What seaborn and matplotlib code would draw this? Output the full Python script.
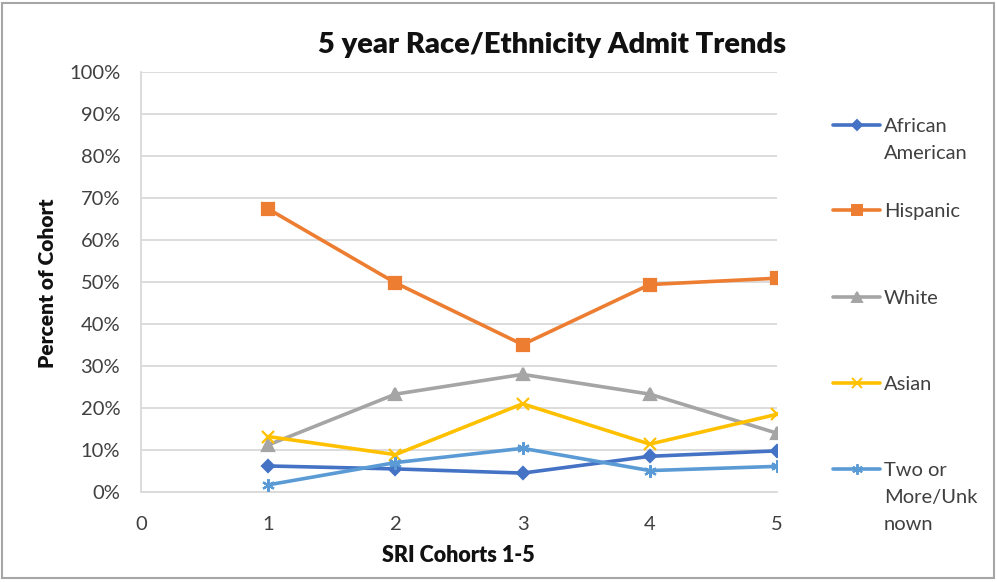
import matplotlib
matplotlib.use("Agg")
import matplotlib.pyplot as plt
import numpy as np
import pandas as pd
import seaborn as sns
from matplotlib.lines import Line2D
from matplotlib.patches import Rectangle
from matplotlib.ticker import FuncFormatter

# Admit share per cohort (percent of cohort)
cohorts = [1, 2, 3, 4, 5]
african_american = [6.2, 5.5, 4.5, 8.5, 9.8]
hispanic = [67.4, 49.8, 35.1, 49.4, 50.9]
white = [11.2, 23.3, 28.0, 23.3, 14.0]
asian = [13.2, 8.9, 21.0, 11.4, 18.5]
two_or_more = [1.7, 7.0, 10.4, 5.1, 6.1]

groups = ["African American", "Hispanic", "White", "Asian", "Two or More/Unknown"]
legend_labels = ["African\nAmerican", "Hispanic", "White", "Asian", "Two or\nMore/Unk\nnown"]
x_ticks = [0, 1, 2, 3, 4, 5]
y_ticks = [0, 10, 20, 30, 40, 50, 60, 70, 80, 90, 100]

colors = ["#4472C4", "#ED7D31", "#A5A5A5", "#FFC000", "#5B9BD5"]
markers = ["D", "s", "^", "x", (6, 2, 0)]
msizes = [6.5, 8.5, 8.5, 9, 9]

series = [african_american, hispanic, white, asian, two_or_more]
df = pd.DataFrame({
    "cohort": np.tile(cohorts, len(groups)),
    "group": np.repeat(groups, len(cohorts)),
    "pct": np.concatenate(series),
})

sns.set_theme(style="white")
plt.rcParams["font.family"] = ["Lato", "DejaVu Sans"]
plt.rcParams["text.color"] = "#404040"

W, H = 997, 582
fig = plt.figure(figsize=(W / 100, H / 100), dpi=100)
ax = fig.add_axes([141 / W, 1 - 492 / H, (777 - 141) / W, (492 - 72) / H])

for g, c, m, ms in zip(groups, colors, markers, msizes):
    sub = df[df["group"] == g]
    sns.lineplot(data=sub, x="cohort", y="pct", ax=ax, color=c, marker=m,
                 markersize=ms, markeredgecolor=c, markerfacecolor=c,
                 markeredgewidth=1.6, linewidth=2.6, legend=False, zorder=3)

ax.set_xlim(0, 5)
ax.set_ylim(0, 100)
ax.set_xticks(x_ticks)
ax.set_yticks(y_ticks)
ax.yaxis.set_major_formatter(FuncFormatter(lambda v, p: f"{v:.0f}%"))
ax.tick_params(axis="both", length=0, labelsize=14.5, labelcolor="#404040")
ax.tick_params(axis="y", pad=15)
ax.tick_params(axis="x", pad=17)
ax.grid(axis="y", color="#D9D9D9", linewidth=1.3)
ax.set_axisbelow(True)
for s in ["top", "right"]:
    ax.spines[s].set_visible(False)
for s in ["left", "bottom"]:
    ax.spines[s].set_color("#D9D9D9")
    ax.spines[s].set_linewidth(1.3)
ax.set_xlabel("")
ax.set_ylabel("")

fig.text(552 / W, 1 - 45 / H, "5 year Race/Ethnicity Admit Trends", ha="center",
         va="center", fontsize=21, fontweight="heavy", color="#111111")
fig.text(47 / W, 1 - 283 / H, "Percent of Cohort", ha="center", va="center",
         rotation=90, fontsize=15, fontweight="heavy", color="#111111")
fig.text(458 / W, 1 - 556 / H, "SRI Cohorts 1-5", ha="center", va="center",
         fontsize=15.5, fontweight="heavy", color="#111111")

# Legend: handle aligned with the first line of each label
first_line_y = [125, 210, 297, 383, 469]
for lab, c, m, ms, yy in zip(legend_labels, colors, markers, msizes, first_line_y):
    fy = 1 - yy / H
    fig.add_artist(Line2D([833 / W, 880 / W], [fy, fy], transform=fig.transFigure,
                          color=c, linewidth=2.6))
    fig.add_artist(Line2D([856.5 / W], [fy], transform=fig.transFigure, color=c,
                          marker=m, markersize=ms * 0.85, markeredgecolor=c,
                          markerfacecolor=c, markeredgewidth=1.4, linestyle="none"))
    fig.text(884 / W, 1 - (yy - 7) / H, lab, ha="left", va="top", fontsize=14.5,
             linespacing=1.7, color="#404040")

fig.add_artist(Rectangle((2 / W, 1 - 578 / H), 992 / W, 575 / H, transform=fig.transFigure,
                         fill=False, edgecolor="#A6A6A6", linewidth=1.5))

fig.savefig("out.png", dpi=100, facecolor="white")
